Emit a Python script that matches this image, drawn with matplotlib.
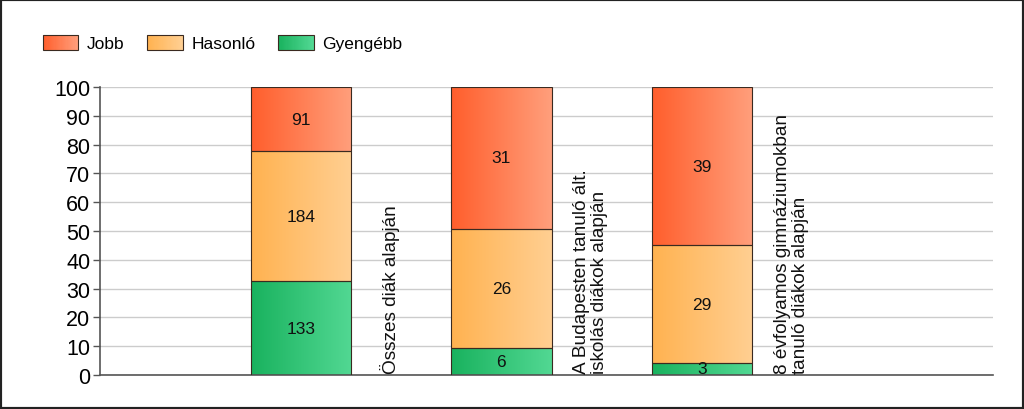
import matplotlib
matplotlib.use('Agg')
import matplotlib.pyplot as plt
from matplotlib.colors import LinearSegmentedColormap, to_rgb
from matplotlib.patches import Rectangle, Patch
from matplotlib.legend_handler import HandlerBase
import numpy as np

plt.rcParams['font.family'] = ['Liberation Sans', 'DejaVu Sans']

# Adatok
categories = ['Összes diák alapján',
              'A Budapesten tanuló ált.\niskolás diákok alapján',
              '8 évfolyamos gimnáziumokban\ntanuló diákok alapján']
series = ['Jobb', 'Hasonló', 'Gyengébb']
gyengebb = [133, 6, 3]
hasonlo = [184, 26, 29]
jobb = [91, 31, 39]
y_ticks = [0, 10, 20, 30, 40, 50, 60, 70, 80, 90, 100]

# szinek (bal -> jobb gradiens)
grad = {
    'Jobb': ('#ff5e2c', '#ff9f7c'),
    'Hasonló': ('#ffb250', '#ffcf92'),
    'Gyengébb': ('#19b25e', '#52d893'),
}


class GradientHandler(HandlerBase):
    """Legend jel gradiens kitoltessel (csikokbol)"""
    def create_artists(self, legend, orig_handle, xdescent, ydescent,
                       width, height, fontsize, trans):
        c0 = np.array(to_rgb(grad[orig_handle.get_label()][0]))
        c1 = np.array(to_rgb(grad[orig_handle.get_label()][1]))
        n = 30
        arts = []
        for k in range(n):
            t = k / (n - 1)
            r = Rectangle((-xdescent + width * k / n, -ydescent), width / n + 0.3, height,
                          facecolor=c0 * (1 - t) + c1 * t, edgecolor='none',
                          transform=trans)
            arts.append(r)
        arts.append(Rectangle((-xdescent, -ydescent), width, height, facecolor='none',
                              edgecolor='#3a2a20', linewidth=0.8, transform=trans))
        return arts


fig = plt.figure(figsize=(10.24, 4.10), dpi=100)
ax = fig.add_axes([100/1024, 34/410, 893/1024, 288/410])

x = np.arange(len(categories))
totals = np.array(gyengebb) + np.array(hasonlo) + np.array(jobb)
stack = [('Gyengébb', gyengebb), ('Hasonló', hasonlo), ('Jobb', jobb)]

bottom = np.zeros(len(categories))
gradient = np.linspace(0, 1, 256).reshape(1, -1)
for name, vals in stack:
    pct = np.array(vals) / totals * 100
    bars = ax.bar(x, pct, width=0.5, bottom=bottom, color='none',
                  edgecolor='#3a2a20', linewidth=0.8, zorder=3)
    cmap = LinearSegmentedColormap.from_list(name, grad[name])
    for b, v, p, bt in zip(bars, vals, pct, bottom):
        x0, y0 = b.get_x(), b.get_y()
        im = ax.imshow(gradient, cmap=cmap, aspect='auto', zorder=2,
                       extent=(x0, x0 + b.get_width(), y0, y0 + b.get_height()))
        im.set_clip_path(b)
        ax.text(b.get_x() + b.get_width() / 2, bt + p / 2, str(v),
                ha='center', va='center', fontsize=12.5, color='#111111', zorder=4)
    bottom += pct

for i, c in enumerate(categories):
    ax.text(i + 0.445, 0.6, c, rotation=90, ha='center', va='bottom',
            multialignment='left', fontsize=13.7, linespacing=1.1, color='#111111')

ax.set_xlim(-1.0, 3.45)
ax.set_ylim(0, 100)
ax.set_yticks(y_ticks)
ax.tick_params(axis='y', labelsize=15.5, length=5, width=1, color='#555555', pad=2)
ax.set_xticks([])
ax.yaxis.grid(True, color='#cccccc', linewidth=1)
ax.set_axisbelow(True)
for s in ['top', 'right']:
    ax.spines[s].set_visible(False)
for s in ['left', 'bottom']:
    ax.spines[s].set_color('#555555')
    ax.spines[s].set_linewidth(1.2)

handles = [Patch(label=n) for n in series]
fig.legend(handles=handles, loc='upper left', bbox_to_anchor=(27/1024, 1 - 20/410),
           ncol=3, frameon=False, fontsize=12.5, handlelength=2.05,
           handleheight=1.0, handletextpad=0.5, columnspacing=1.3,
           handler_map={Patch: GradientHandler()})

# keret
fig.patches.append(Rectangle((0, 0), 1, 1, transform=fig.transFigure, fill=False,
                             edgecolor='#222222', linewidth=3))

plt.savefig('out.png', dpi=100)
